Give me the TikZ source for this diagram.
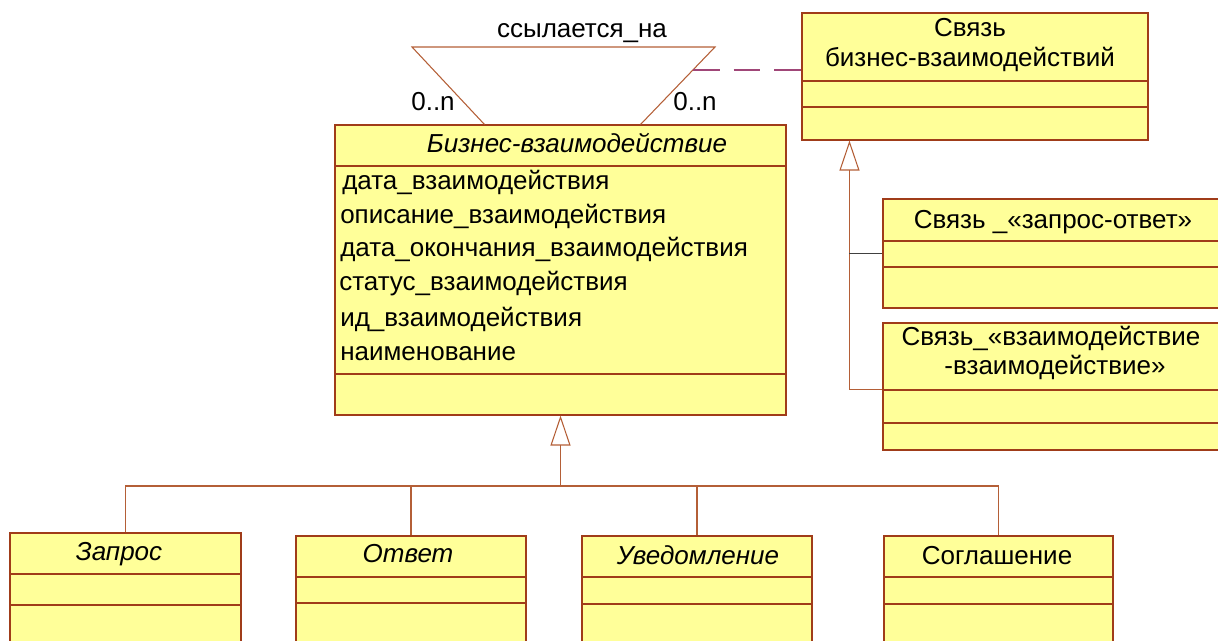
\documentclass[tikz,border=0pt]{standalone}
\usepackage{fontspec}
\setmainfont{Liberation Sans}
\usetikzlibrary{positioning,fit,calc,arrows.meta}
\definecolor{umlfill}{RGB}{255,255,153}
\definecolor{umlborder}{RGB}{160,60,25}
\definecolor{umllink}{RGB}{180,95,55}
\definecolor{assocdash}{RGB}{160,70,120}

\begin{document}
\begin{tikzpicture}[
    x=0.75pt, y=-0.75pt,
    cls/.style={draw=umlborder, fill=umlfill, line width=0.8pt, inner sep=0pt},
    divider/.style={draw=umlborder, line width=0.8pt},
    lbl/.style={font=\fontsize{19.5}{23}\selectfont, inner sep=0pt},
    ilbl/.style={lbl, font=\fontsize{19.5}{23}\selectfont\itshape},
    link/.style={draw=umllink, line width=0.8pt},
    gen/.style={link, -{Triangle[open, length=22.5pt, width=15pt, fill=white]}},
    dashlink/.style={draw=assocdash, line width=1.2pt, dash pattern=on 20pt off 10.5pt}
]
\useasboundingbox (0,0) rectangle (1218,641);
\clip (0,0) rectangle (1218,641);

% Business interaction (abstract)
\node[cls, fit={(335,125) (786,415)}] (biz) {};
\draw[divider] (335,166) -- (786,166);
\draw[divider] (335,374) -- (786,374);
\node[ilbl, anchor=base] (bizname) at (577,153) {Бизнес-взаимодействие};
\node[lbl, anchor=base west] (attr1) at (342,190) {дата\_взаимодействия};
\node[lbl, anchor=base west] (attr2) at (340,224) {описание\_взаимодействия};
\node[lbl, anchor=base west] (attr3) at (340,257) {дата\_окончания\_взаимодействия};
\node[lbl, anchor=base west] (attr4) at (339,291) {статус\_взаимодействия};
\node[lbl, anchor=base west] (attr5) at (340,327) {ид\_взаимодействия};
\node[lbl, anchor=base west] (attr6) at (340,361) {наименование};

% Link class
\node[cls, fit={(802,13) (1148,140)}] (svyaz) {};
\draw[divider] (802,81) -- (1148,81);
\draw[divider] (802,107) -- (1148,107);
\node[lbl, anchor=base] (svyazname1) at (970,37) {Связь};
\node[lbl, anchor=base] (svyazname2) at (970,67) {бизнес-взаимодействий};

% Link subclasses
\node[cls, fit={(883,199) (1230,308)}] (zo) {};
\draw[divider] (883,241) -- (1230,241);
\draw[divider] (883,267) -- (1230,267);
\node[lbl, anchor=base] (zoname) at (1053,229) {Связь \_«запрос-ответ»};

\node[cls, fit={(883,323) (1230,450)}] (vi) {};
\draw[divider] (883,390) -- (1230,390);
\draw[divider] (883,423) -- (1230,423);
\node[lbl, anchor=base] (viname1) at (1051,346) {Связь\_«взаимодействие};
\node[lbl, anchor=base] (viname2) at (1055,375) {-взаимодействие»};

% Interaction subclasses
\node[cls, fit={(10,533) (241,650)}] (zapros) {};
\draw[divider] (10,574) -- (241,574);
\draw[divider] (10,605) -- (241,605);
\node[ilbl, anchor=base] (zaprosname) at (119,561) {Запрос};

\node[cls, fit={(296,536) (526,650)}] (otvet) {};
\draw[divider] (296,577) -- (526,577);
\draw[divider] (296,603) -- (526,603);
\node[ilbl, anchor=base] (otvetname) at (408,562) {Ответ};

\node[cls, fit={(582,536) (812,650)}] (uved) {};
\draw[divider] (582,577) -- (812,577);
\draw[divider] (582,604) -- (812,604);
\node[ilbl, anchor=base] (uvedname) at (698,564) {Уведомление};

\node[cls, fit={(884,536) (1113,650)}] (soglash) {};
\draw[divider] (884,577) -- (1113,577);
\draw[divider] (884,604) -- (1113,604);
\node[lbl, anchor=base] (soglashname) at (997,564) {Соглашение};

% Generalization - bottom
\coordinate (bus) at (biz.south |- 0,486);
\draw[gen] (bus) -- (biz.south);
\draw[link] (zapros.north) |- (bus) -| (soglash.north);
\draw[link] (otvet.north) -- (otvet.north |- bus);
\draw[link] (uved.north) -- (uved.north |- bus);

% Generalization - right
\coordinate (svtip) at ([xshift=36pt]svyaz.south west);
\draw[gen] ([yshift=-2.6pt]vi.west) -| (svtip);
\draw[link, draw=black!75] (zo.west) -- (zo.west -| svtip);

% Self association
\coordinate (selfl) at (412,47);
\coordinate (selfr) at (715,47);
\coordinate (bizl) at ([xshift=112.5pt]biz.north west);
\coordinate (bizr) at ([xshift=-109.5pt]biz.north east);
\draw[link] (bizl) -- (selfl) -- (selfr) -- (bizr);
\node[lbl, anchor=base] (relname) at (582,38) {ссылается\_на};
\node[lbl, anchor=base] (multl) at (433,111) {0..n};
\node[lbl, anchor=base] (multr) at (695,111) {0..n};

% Association class link
\coordinate (amid) at ($(selfr)!0.295!(bizr)$);
\draw[dashlink] (amid) -- (amid -| svyaz.west);

\end{tikzpicture}
\end{document}
